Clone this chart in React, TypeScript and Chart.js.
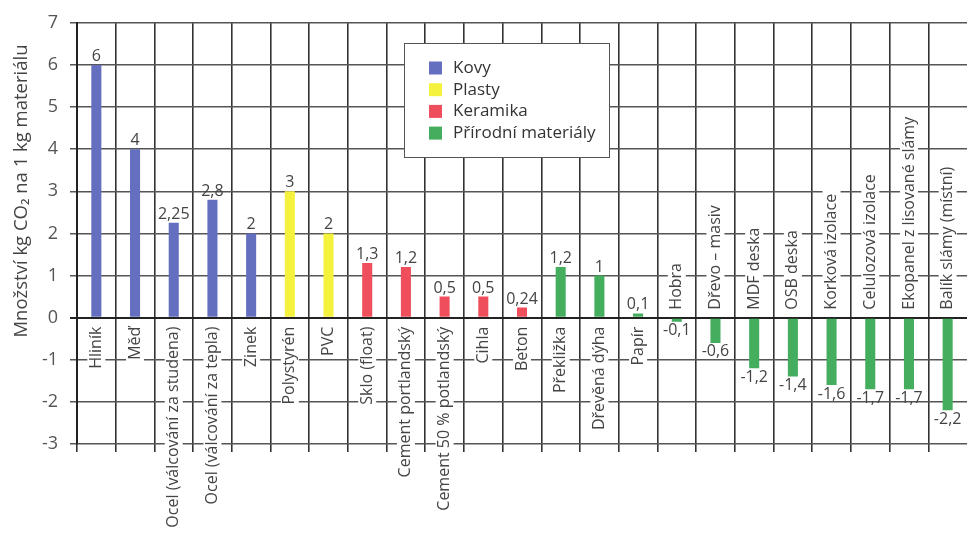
import React, { useEffect, useRef } from "react";
import { Chart, registerables } from "chart.js";

Chart.register(...registerables);

const categories = [
  "Hliník", "Měď", "Ocel (válcování za studena)", "Ocel (válcování za tepla)", "Zinek",
  "Polystyrén", "PVC",
  "Sklo (float)", "Cement portlandský", "Cement 50 % potlandský", "Cihla", "Beton",
  "Překližka", "Dřevěná dýha", "Papír", "Hobra", "Dřevo – masiv", "MDF deska", "OSB deska",
  "Korková izolace", "Celulozová izolace", "Ekopanel z lisované slámy", "Balík slámy (místní)",
];
const values = [6, 4, 2.25, 2.8, 2, 3, 2, 1.3, 1.2, 0.5, 0.5, 0.24, 1.2, 1, 0.1, -0.1, -0.6, -1.2, -1.4, -1.6, -1.7, -1.7, -2.2];
const valueLabels = ["6", "4", "2,25", "2,8", "2", "3", "2", "1,3", "1,2", "0,5", "0,5", "0,24", "1,2", "1", "0,1", "-0,1", "-0,6", "-1,2", "-1,4", "-1,6", "-1,7", "-1,7", "-2,2"];
const groupOf = [0, 0, 0, 0, 0, 1, 1, 2, 2, 2, 2, 2, 3, 3, 3, 3, 3, 3, 3, 3, 3, 3, 3];
const groupNames = ["Kovy", "Plasty", "Keramika", "Přírodní materiály"];
const groupColors = ["#6470bf", "#f5f23e", "#ef4f5c", "#45ad5e"];
const yTitle = "Množství kg CO₂ na 1 kg materiálu";
const yMin = -3;
const yMax = 7;

const FONT = "'Open Sans', 'Noto Sans', sans-serif";

const overlayPlugin = {
  id: "overlay",
  afterDatasetsDraw(chart: any) {
    const ctx = chart.ctx;
    const meta = chart.getDatasetMeta(0);
    const yScale = chart.scales.y;
    const zeroY = yScale.getPixelForValue(0);
    ctx.save();
    // value labels
    ctx.font = `16px ${FONT}`;
    ctx.fillStyle = "#444";
    ctx.textAlign = "center";
    meta.data.forEach((bar: any, i: number) => {
      const v = values[i];
      if (v >= 0) {
        ctx.textBaseline = "alphabetic";
        ctx.fillText(valueLabels[i], bar.x, bar.y - 4);
      } else {
        ctx.textBaseline = "top";
        ctx.fillText(valueLabels[i], bar.x, bar.y + 1);
      }
    });
    // category labels (rotated)
    ctx.font = `16px ${FONT}`;
    meta.data.forEach((bar: any, i: number) => {
      const v = values[i];
      const text = categories[i];
      const w = ctx.measureText(text).width;
      ctx.save();
      if (v >= 0) {
        ctx.translate(bar.x, zeroY + 9);
        ctx.rotate(-Math.PI / 2);
        ctx.fillStyle = "#fff";
        ctx.fillRect(-w - 3, -9, w + 6, 18);
        ctx.fillStyle = "#444";
        ctx.textAlign = "right";
        ctx.textBaseline = "middle";
        ctx.fillText(text, 0, 0);
      } else {
        ctx.translate(bar.x, zeroY - 8);
        ctx.rotate(-Math.PI / 2);
        ctx.fillStyle = "#fff";
        ctx.fillRect(-3, -9, w + 6, 18);
        ctx.fillStyle = "#444";
        ctx.textAlign = "left";
        ctx.textBaseline = "middle";
        ctx.fillText(text, 0, 0);
      }
      ctx.restore();
    });
    // legend box
    const lx = 404, ly = 43, lw = 205, lh = 114;
    ctx.fillStyle = "#fff";
    ctx.fillRect(lx, ly, lw, lh);
    ctx.strokeStyle = "#555";
    ctx.lineWidth = 1;
    ctx.strokeRect(lx + 0.5, ly + 0.5, lw, lh);
    ctx.font = `17px ${FONT}`;
    ctx.textAlign = "left";
    ctx.textBaseline = "middle";
    groupNames.forEach((name, i) => {
      const cy = 68 + i * 21.7;
      ctx.fillStyle = groupColors[i];
      ctx.fillRect(429, cy - 6.5, 13, 13);
      ctx.fillStyle = "#333";
      ctx.fillText(name, 453, cy);
    });
    // y title
    ctx.save();
    ctx.translate(22, 191);
    ctx.rotate(-Math.PI / 2);
    ctx.font = `18.5px ${FONT}`;
    ctx.fillStyle = "#444";
    ctx.textAlign = "center";
    ctx.textBaseline = "middle";
    ctx.fillText(yTitle, 0, 0);
    ctx.restore();
    ctx.restore();
  },
};

export default function App() {
  const ref = useRef<HTMLCanvasElement | null>(null);
  useEffect(() => {
    if (!ref.current) return;
    const chart = new Chart(ref.current, {
      type: "bar",
      data: {
        labels: categories,
        datasets: [
          {
            data: values,
            backgroundColor: groupOf.map((g) => groupColors[g]),
            barPercentage: 0.26,
            categoryPercentage: 1,
            borderWidth: 0,
          },
        ],
      },
      options: {
        animation: false,
        responsive: true,
        maintainAspectRatio: false,
        layout: { padding: { top: 19, bottom: 96, left: 0, right: 0 } },
        plugins: { legend: { display: false }, tooltip: { enabled: false } },
        scales: {
          x: {
            offset: true,
            ticks: { display: false },
            border: { display: false },
            grid: {
              offset: true,
              drawTicks: true,
              tickLength: 8,
              lineWidth: 1.6,
              color: (c: any) => (c.type === "tick" ? "#333" : "rgba(0,0,0,0)"),
            },
          },
          y: {
            min: yMin,
            max: yMax,
            afterFit: (s: any) => {
              s.width = 77;
            },
            ticks: {
              stepSize: 1,
              padding: 12,
              color: "#555",
              font: { size: 18, family: FONT },
            },
            border: { display: true, color: "#222", width: 2 },
            grid: {
              tickLength: 7,
              color: (c: any) => (c.tick && c.tick.value === 0 ? "#222" : "#555"),
              lineWidth: (c: any) => (c.tick && c.tick.value === 0 ? 2 : 1.5),
            },
          },
        },
      },
      plugins: [overlayPlugin],
    });
    return () => chart.destroy();
  }, []);
  return (
    <div style={{ position: "fixed", left: 0, top: 0, width: 967, height: 548, background: "#fff" }}>
      <canvas ref={ref} />
    </div>
  );
}
